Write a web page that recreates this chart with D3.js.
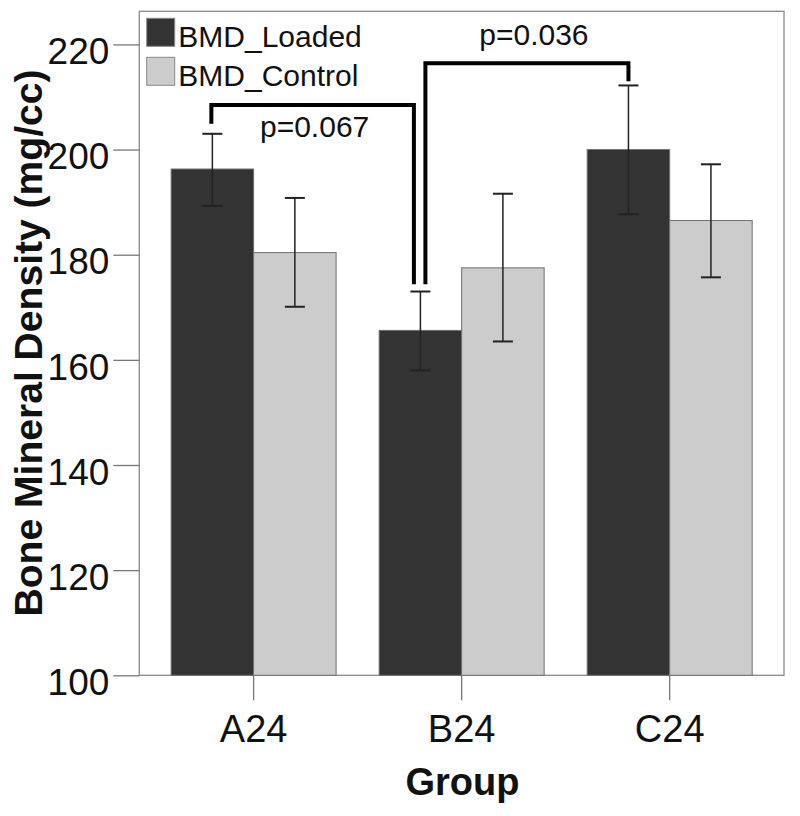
<!DOCTYPE html>
<html><head><meta charset="utf-8">
<script src="https://cdn.jsdelivr.net/npm/d3@7"></script>
<style>body{margin:0;background:#fff}svg{display:block}text{font-family:"Liberation Sans",Arial,sans-serif}</style>
</head><body>
<script>
const groups = ["A24", "B24", "C24"];
const seriesNames = ["BMD_Loaded", "BMD_Control"];
const loadedMean = [196.3, 165.6, 200.0];
const loadedLow  = [189.3, 158.0, 187.7];
const loadedHigh = [203.0, 173.0, 212.2];
const controlMean = [180.4, 177.5, 186.5];
const controlLow  = [170.1, 163.5, 175.7];
const controlHigh = [190.8, 191.6, 197.2];
const yTicks = [100, 120, 140, 160, 180, 200, 220];
// brackets: [from group, to group, left-end value, top value, right-end value, label]
const bracketFrom = ["A24", "B24"];
const bracketTo = ["B24", "C24"];
const bracketLeftEnd = [204.9, 174.4];
const bracketTop = [208.5, 216.4];
const bracketRightEnd = [174.4, 213.0];
const bracketLabels = ["p=0.067", "p=0.036"];
const labelValues = [202.4, 219.8];

const W = 800, H = 816;
const svg = d3.select("body").append("svg").attr("width", W).attr("height", H);
const L = 139.3, R = 784, T = 11.3, B = 675.3;

const y = d3.scaleLinear().domain([100, 226.3]).range([B, T]);
const x0 = d3.scaleBand().domain(groups).range([L, R]).paddingInner(0.207).paddingOuter(0.153);
const x1 = d3.scaleBand().domain(seriesNames).range([0, x0.bandwidth()]);
const color = d3.scaleOrdinal().domain(seriesNames).range(["#333333", "#cccccc"]);

const data = [];
groups.forEach((g, i) => {
  data.push({g, s: seriesNames[0], v: loadedMean[i], lo: loadedLow[i], hi: loadedHigh[i]});
  data.push({g, s: seriesNames[1], v: controlMean[i], lo: controlLow[i], hi: controlHigh[i]});
});

// frame
svg.append("rect").attr("x", L).attr("y", T).attr("width", R - L).attr("height", B - T)
  .attr("fill", "none").attr("stroke", "#8a8a8a").attr("stroke-width", 1.3);

// bars
svg.append("g").selectAll("rect").data(data).join("rect")
  .attr("x", d => x0(d.g) + x1(d.s))
  .attr("y", d => y(d.v))
  .attr("width", x1.bandwidth())
  .attr("height", d => y(100) - y(d.v))
  .attr("fill", d => color(d.s))
  .attr("stroke", "#6e6e6e").attr("stroke-width", 1);

// error bars
const eg = svg.append("g").attr("stroke", "#222").attr("stroke-width", 1.5);
data.forEach(d => {
  const cx = x0(d.g) + x1(d.s) + x1.bandwidth() / 2;
  eg.append("line").attr("x1", cx).attr("x2", cx).attr("y1", y(d.lo)).attr("y2", y(d.hi));
  eg.append("line").attr("x1", cx - 10).attr("x2", cx + 10).attr("y1", y(d.lo)).attr("y2", y(d.lo)).attr("stroke-width", 2);
  eg.append("line").attr("x1", cx - 10).attr("x2", cx + 10).attr("y1", y(d.hi)).attr("y2", y(d.hi)).attr("stroke-width", 2);
});

// y axis
const yAxis = d3.axisLeft(y).tickValues(yTicks).tickSize(26).tickPadding(4).tickFormat(d3.format("d"));
const ya = svg.append("g").attr("transform", `translate(${L},0)`).call(yAxis);
ya.select(".domain").remove();
ya.selectAll(".tick line").attr("stroke", "#777").attr("stroke-width", 1.3);
ya.selectAll(".tick text").attr("font-size", 37).attr("fill", "#111").attr("dy", "0.52em")
  .style("font-family", "'Liberation Sans', Arial, sans-serif");

// x axis
const xAxis = d3.axisBottom(x0).tickSize(25).tickPadding(10);
const xa = svg.append("g").attr("transform", `translate(0,${B})`).call(xAxis);
xa.select(".domain").remove();
xa.selectAll(".tick line").attr("stroke", "#777").attr("stroke-width", 1.3);
xa.selectAll(".tick text").attr("font-size", 38).attr("fill", "#111").attr("dy", "0").attr("y", 66.4)
  .style("font-family", "'Liberation Sans', Arial, sans-serif");

// axis titles
svg.append("text").attr("x", 462.5).attr("y", 795).attr("text-anchor", "middle")
  .attr("font-size", 38).attr("font-weight", "bold").attr("fill", "#111").text("Group");
svg.append("text").attr("transform", "translate(41.5,343) rotate(-90)").attr("text-anchor", "middle")
  .attr("font-size", 39).attr("font-weight", "bold").attr("fill", "#111")
  .attr("textLength", 547).attr("lengthAdjust", "spacingAndGlyphs")
  .text("Bone Mineral Density (mg/cc)");

// legend
seriesNames.forEach((s, i) => {
  const ly = 18.3 + i * 39;
  svg.append("rect").attr("x", 146.7).attr("y", ly).attr("width", 28).attr("height", 28)
    .attr("fill", color(s)).attr("stroke", "#888").attr("stroke-width", 1);
  svg.append("text").attr("x", 178.3).attr("y", ly + 28.4).attr("font-size", 30).attr("fill", "#111").text(s);
});

// significance brackets
const loadedCenter = g => x0(g) + x1(seriesNames[0]) + x1.bandwidth() / 2;
const bg = svg.append("g");
bracketLabels.forEach((lab, i) => {
  const xl = loadedCenter(bracketFrom[i]) + (i === 1 ? 5 : -1);
  const xr = loadedCenter(bracketTo[i]) + (i === 0 ? -6.5 : 0);
  const path = d3.path();
  path.moveTo(xl, y(bracketLeftEnd[i]));
  path.lineTo(xl, y(bracketTop[i]));
  path.lineTo(xr, y(bracketTop[i]));
  path.lineTo(xr, y(bracketRightEnd[i]));
  bg.append("path").attr("d", path.toString()).attr("fill", "none")
    .attr("stroke", "#000").attr("stroke-width", 4).attr("stroke-linejoin", "miter");
  bg.append("text").attr("x", (xl + xr) / 2 + (i === 0 ? 2 : 7)).attr("y", y(labelValues[i]))
    .attr("text-anchor", "middle").attr("font-size", 30).attr("fill", "#111").text(lab);
});
</script>
</body></html>
